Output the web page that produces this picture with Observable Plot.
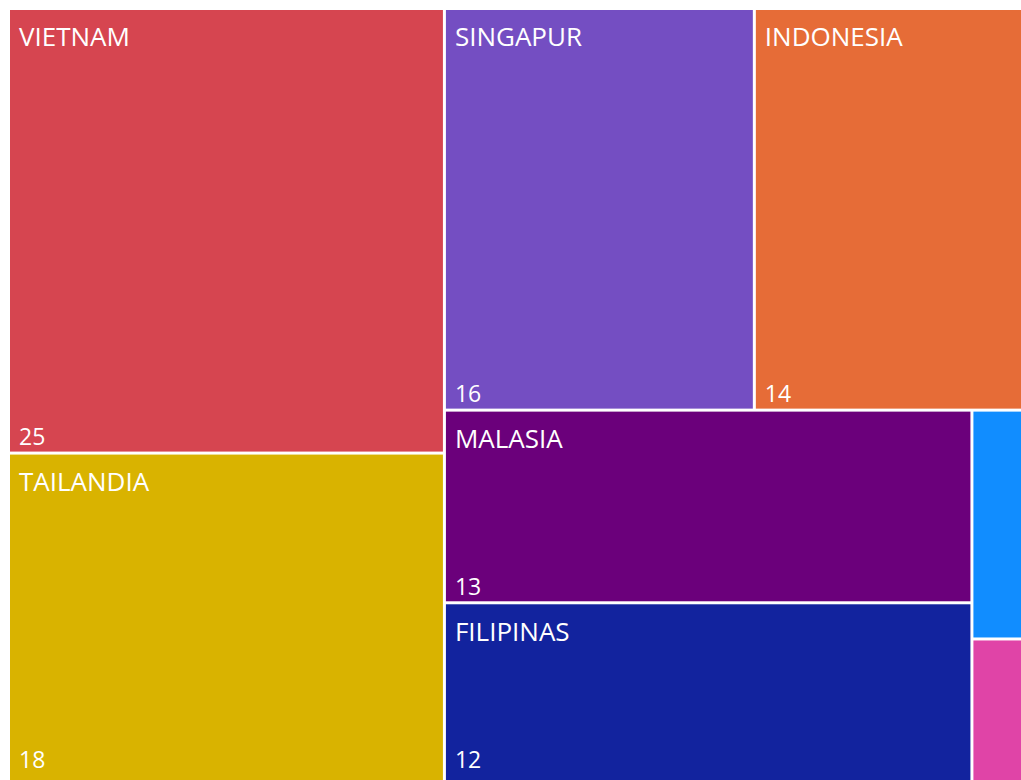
<!DOCTYPE html>
<html>
<head>
<meta charset="utf-8">
<script src="https://cdn.jsdelivr.net/npm/d3@7"></script>
<script src="https://cdn.jsdelivr.net/npm/@observablehq/plot@0.6"></script>
<style>
  html, body { margin: 0; padding: 0; background: #ffffff; overflow: hidden; }
  #chart { width: 1021px; height: 780px; overflow: hidden; position: relative; }
  #chart svg { display: block; overflow: hidden; }
</style>
</head>
<body>
<div id="chart"></div>
<script>
// Data (percent shares, labels shown rounded)
const countries = ["VIETNAM", "TAILANDIA", "SINGAPUR", "INDONESIA", "MALASIA", "FILIPINAS", "CAMBOYA", "MYANMAR"];
const shares    = [24.6, 18.2, 15.8, 13.9, 12.9, 12.0, 1.6, 1.0];
const palette   = ["#D64550", "#D9B300", "#744EC2", "#E66C37", "#6B007B", "#12239E", "#118DFF", "#E044A7"];

const W = 1018.5, H = 773.5;       // treemap layout extent (data units)
const visibleH = 767;              // lowest value-label anchor (data units)

const root = d3.hierarchy({children: countries.map((name, i) => ({name, value: shares[i]}))})
  .sum(d => d.value)
  .sort((a, b) => b.value - a.value);
d3.treemap().size([W, H]).tile(d3.treemapSquarify)(root);

const leaves = root.leaves().map(l => ({
  name: l.data.name,
  value: l.data.value,
  x0: l.x0, x1: l.x1, y0: l.y0, y1: l.y1,
  ly: Math.min(l.y1, visibleH)
}));
const labeled = leaves.filter(d => d.x1 - d.x0 > 100);
const font = "'Open Sans', 'Segoe UI', sans-serif";

const chart = Plot.plot({
  width: 1021,
  height: 780,
  margin: 0,
  x: {domain: [0, W], range: [8.5, 8.5 + W], axis: null},
  y: {domain: [0, H], range: [8.5, 8.5 + H], axis: null},
  color: {domain: countries, range: palette},
  style: {fontFamily: font, background: "#ffffff", overflow: "hidden"},
  marks: [
    Plot.rect(leaves, {x1: "x0", x2: "x1", y1: "y0", y2: "y1", fill: "name", inset: 1.5}),
    Plot.text(labeled, {
      x: "x0", y: "y0", text: "name",
      dx: 10, dy: 19, textAnchor: "start", lineAnchor: "top",
      fill: "white", fontSize: 26, fontFamily: font
    }),
    Plot.text(labeled, {
      x: "x0", y: "ly", text: d => d3.format(".0f")(d.value),
      dx: 10, dy: -8.5, textAnchor: "start", lineAnchor: "bottom",
      fill: "white", fontSize: 23, fontFamily: font
    })
  ]
});
document.getElementById("chart").appendChild(chart);
</script>
</body>
</html>
